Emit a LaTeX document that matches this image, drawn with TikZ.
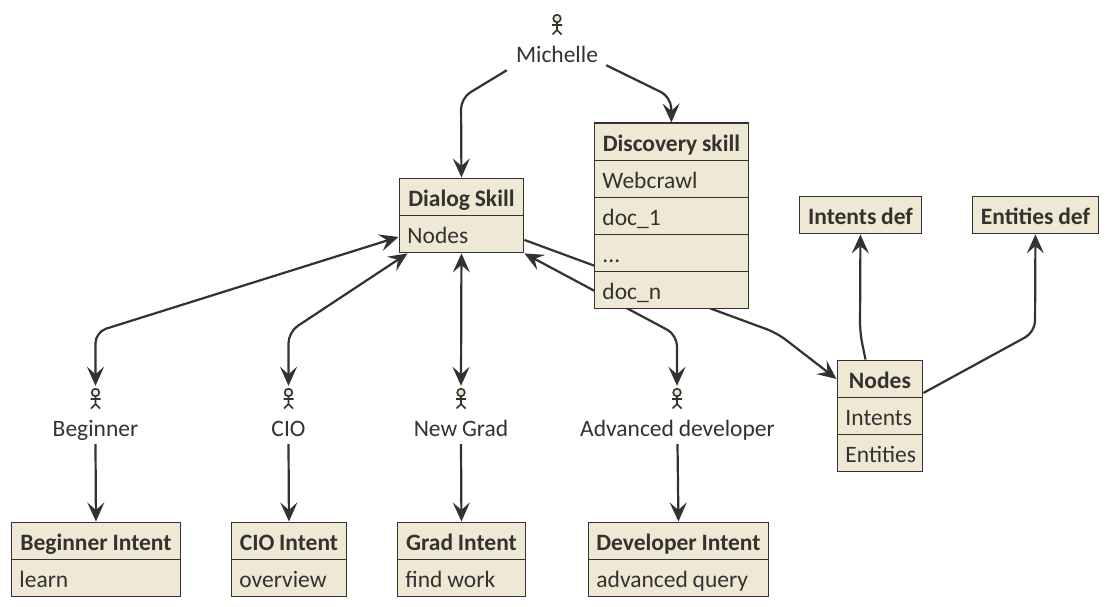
\documentclass[tikz,border=0pt]{standalone}
\usepackage{fontspec}
\setmainfont[WordSpace=0.9]{Carlito}
\usetikzlibrary{arrows.meta}
\definecolor{ink}{HTML}{33322E}
\definecolor{cream}{HTML}{EEE8D5}
\pgfdeclarelayer{links}
\pgfsetlayers{links,main}
\tikzset{
  x=1pt,y=-1pt,
  compartment/.style={draw=ink,fill=cream,line width=1.9pt,anchor=north west,inner ysep=0pt,inner xsep=0pt,
    text=ink,font=\fontsize{23.5pt}{26pt}\selectfont,minimum height=37pt,text height=21pt,text depth=1pt},
  headrow/.style={compartment,font=\fontsize{23.5pt}{26pt}\selectfont\bfseries,align=flush center,text height=20.5pt,text depth=0.5pt},
  bodyrow/.style={compartment,align=flush left},
  actorlabel/.style={inner sep=0pt,text=ink,minimum height=32pt,text height=18pt,text depth=2pt,font=\fontsize{23.5pt}{26pt}\selectfont},
  actoricon/.style={inner sep=0pt,minimum width=12pt,minimum height=24pt},
  stick/.style={draw=ink,line width=1.6pt},
  head/.style={stick,fill=cream},
  tip/.tip={Stealth[length=19pt,width=17pt,inset=7.5pt]},
  link/.style={draw=ink,line width=2.2pt,rounded corners=11pt,-tip},
  linkboth/.style={link,tip-tip},
}
\newcommand{\hrow}[5]{\node[headrow,minimum width=#4pt,text width=#4pt] (#1) at (#2-0.5,#3-0.5) {#5};}
\newcommand{\brow}[5]{\node[bodyrow,minimum width=#4pt,text width=#4pt-16pt,inner xsep=8pt] (#1) at (#2-0.5,#3-0.5) {#5};}
\newcommand{\stickname}[4]{\node[actorlabel] (#1) at (#2,#3) {#4};}
\begin{document}
\begin{tikzpicture}
\useasboundingbox (0,0) rectangle (1108,607);
\begin{pgfonlayer}{links}
\fill[white] (0,0) rectangle (1108,607);
\end{pgfonlayer}
% boxes
\hrow{dialog}{399}{178}{124}{Dialog Skill}
\brow{dialogN}{399}{215}{124}{Nodes}
\hrow{disc}{594}{123}{154}{Discovery skill}
\brow{discA}{594}{160}{154}{Webcrawl}
\brow{discB}{594}{197}{154}{doc\_1}
\brow{discC}{594}{234}{154}{...}
\brow{discD}{594}{271}{154}{doc\_n}
\hrow{idef}{799}{196}{122}{Intents def}
\hrow{edef}{972}{196}{126}{Entities def}
\hrow{nodes}{837}{360}{85}{Nodes}
\brow{nodesA}{837}{397}{85}{Intents}
\brow{nodesB}{837}{434}{85}{Entities}
\hrow{bi}{11}{522}{169}{Beginner Intent}
\brow{biA}{11}{559}{169}{learn}
\hrow{ci}{231}{522}{115}{CIO Intent}
\brow{ciA}{231}{559}{115}{overview}
\hrow{gi}{397}{522}{128}{Grad Intent}
\brow{giA}{397}{559}{128}{find work}
\hrow{di}{588}{522}{180}{Developer Intent}
\brow{diA}{588}{559}{180}{advanced query}
% actors
\node[actoricon] (mI) at (557,24) {};
\node[actoricon] (bI) at (95.5,398) {};
\node[actoricon] (cI) at (288.5,398) {};
\node[actoricon] (gI) at (461,398) {};
\node[actoricon] (aI) at (677,398) {};
\foreach \px/\py in {557/24,95.5/398,288.5/398,461/398,677/398}{
  \draw[head] (\px,\py-5.5) circle (3.8pt);
  \draw[stick] (\px,\py-1.7) -- (\px,\py+6) (\px-5,\py+1) -- (\px+5,\py+1) (\px-4.5,\py+10.5) -- (\px,\py+6) -- (\px+4.5,\py+10.5);
}
\stickname{mL}{557}{55}{Michelle}
\stickname{bL}{95.5}{428}{Beginner}
\stickname{cL}{288.5}{428}{CIO}
\stickname{gL}{461}{428}{New Grad}
\stickname{aL}{677.5}{428}{Advanced developer}
% connectors
\begin{pgfonlayer}{links}
\draw[link] ([xshift=-9pt,yshift=1pt]mL.south west) -- (461,98) -- (dialog.north);
\draw[link] ([xshift=8pt,yshift=6pt]mL.south east) -- (671,97) -- (disc.north);
\draw[linkboth] (bI.north) -- (95.5,332) -- ([yshift=-3pt]dialogN.west);
\draw[linkboth] (cI.north) -- (288.5,332) -- ([xshift=9pt]dialogN.south west);
\draw[linkboth] (gI.north) -- (dialogN.south);
\draw[linkboth] (aI.north) -- (677,335) -- (dialogN.south east);
\draw[link] ([yshift=-6pt]dialogN.east) -- (777,333) -- (nodes.west);
\draw[link] ([xshift=29pt]nodes.north west) -- (860,333) -- (idef.south);
\draw[link] ([yshift=-14pt]nodes.east) -- (1035,332) -- (edef.south);
\draw[link,rounded corners=0pt] (bL.south) -- (bi.north);
\draw[link,rounded corners=0pt] (cL.south) -- (ci.north);
\draw[link,rounded corners=0pt] (gL.south) -- (gi.north);
\draw[link,rounded corners=0pt] (aL.south) -- (di.north);
\end{pgfonlayer}
\end{tikzpicture}
\end{document}
